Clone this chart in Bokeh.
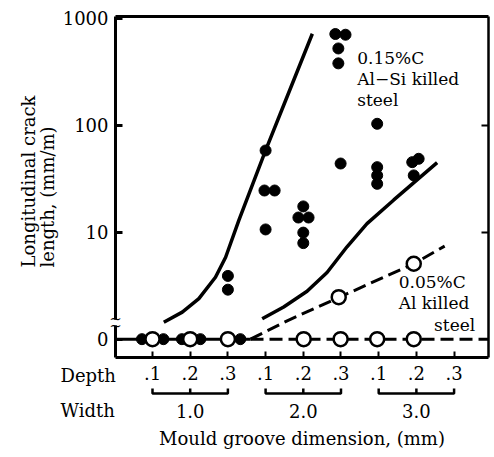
import numpy as np
from bokeh.plotting import figure
from bokeh.models import Label, FixedTicker, LinearAxis, Range1d, BoxAnnotation
from bokeh.embed import file_html
from bokeh.resources import INLINE

FONT = "DejaVu Serif"

# ---- categories / ticks ----
positions = [1, 2, 3, 4, 5, 6, 7, 8, 9]
depth_labels = [".1", ".2", ".3", ".1", ".2", ".3", ".1", ".2", ".3"]
width_labels = ["1.0", "2.0", "3.0"]
width_centers = [2, 5, 8]
y_tick_values = [0, 10, 100, 1000]
y_tick_labels = ["0", "10", "100", "1000"]

# ---- 0.15%C Al-Si killed steel (filled circles) ----
alsi_x = [0.72, 1.29, 1.78, 2.27, 3.0, 3.0, 3.33,
          4.0, 3.97, 4.24, 4.0,
          5.0, 4.87, 5.14, 5.0, 5.0,
          5.85, 6.12, 5.93, 5.93, 5.99,
          6.96, 6.96, 6.96, 6.96,
          7.89, 8.06, 7.93]
alsi_len = [0, 0, 0, 0, 3.9, 2.9, 0,
            58, 24.5, 24.5, 10.6,
            17.4, 13.7, 13.7, 9.9, 7.9,
            711, 700, 521, 378, 43.8,
            103, 40.5, 33.9, 28.3,
            45.1, 48.5, 33.9]

# ---- 0.05%C Al killed steel (open circles) ----
al_x = [1.0, 2.0, 3.0, 5.01, 5.99, 6.96, 7.93, 5.94, 7.93]
al_len = [0, 0, 0, 0, 0, 0, 0, 2.47, 5.07]

# ---- trend curves ----
fit_alsi_a_x = [1.30, 1.79, 2.23, 2.67, 2.94, 3.29, 4.0, 4.53, 5.24]
fit_alsi_a_len = [1.44, 1.79, 2.39, 3.79, 5.83, 12.9, 58, 170, 715]
fit_alsi_b_x = [3.91, 4.48, 5.10, 5.63, 6.16, 6.69, 7.40, 8.55]
fit_alsi_b_len = [1.55, 2.0, 2.8, 4.2, 7.3, 12.0, 20.0, 44.7]
fit_al_x = [3.6, 4.6, 5.94, 7.93, 8.75]
fit_al_len = [0, 1.5, 2.45, 5.07, 7.4]

# ---- canvas / data mapping ----
W, H = 494, 457
X_LO, X_HI = -3.032, 10.072
Y_LO, Y_HI = -1.106, 3.165


def PX(px):
    return X_LO + px / W * (X_HI - X_LO)


def PY(py):
    return Y_HI - py / H * (Y_HI - Y_LO)


AX_L, AX_R, AX_T, AX_B = PX(115), PX(488), PY(16), PY(357)


def ypos(v):
    v = np.asarray(v, dtype=float)
    return np.where(v > 0, np.log10(np.where(v > 0, v, 1.0)), 0.0)


p = figure(width=W, height=H, output_backend="svg", toolbar_location=None,
           x_range=Range1d(X_LO, X_HI), y_range=Range1d(Y_LO, Y_HI),
           min_border=0, x_axis_type=None, y_axis_type=None)
p.grid.visible = False
p.outline_line_color = None
p.background_fill_color = "white"
p.border_fill_color = "white"

# left axis
yax = LinearAxis(ticker=FixedTicker(ticks=list(ypos(y_tick_values))),
                 fixed_location=AX_L, bounds=(AX_B, AX_T))
yax.major_label_overrides = {float(t): l for t, l in zip(ypos(y_tick_values), y_tick_labels)}
yax.major_tick_in = 7
yax.major_tick_out = 0
yax.minor_tick_line_color = None
yax.axis_line_width = 3
yax.major_tick_line_width = 3
yax.major_label_standoff = 7
yax.major_label_text_font = FONT
yax.major_label_text_font_size = "18px"
yax.major_label_text_color = "black"
p.add_layout(yax, "left")

# right axis (ticks only)
rax = LinearAxis(ticker=FixedTicker(ticks=list(ypos([10, 100]))),
                 fixed_location=AX_R, bounds=(AX_B, AX_T))
rax.major_label_text_color = None
rax.major_tick_in = 7
rax.major_tick_out = 0
rax.minor_tick_line_color = None
rax.axis_line_width = 2.5
rax.major_tick_line_width = 2
p.add_layout(rax, "right")

# top frame line
tax = LinearAxis(ticker=FixedTicker(ticks=[]), fixed_location=AX_T, bounds=(AX_L, AX_R))
tax.major_label_text_color = None
tax.major_tick_line_color = None
tax.minor_tick_line_color = None
tax.axis_line_width = 3
p.add_layout(tax, "above")

# bottom axis
xax = LinearAxis(ticker=FixedTicker(ticks=positions), fixed_location=AX_B, bounds=(AX_L, AX_R))
xax.major_label_overrides = {pos: l for pos, l in zip(positions, depth_labels)}
xax.major_tick_in = 6
xax.major_tick_out = 0
xax.minor_tick_line_color = None
xax.axis_line_width = 3
xax.major_tick_line_width = 2
xax.major_label_standoff = 8
xax.major_label_text_font = FONT
xax.major_label_text_font_size = "18px"
xax.major_label_text_color = "black"
p.add_layout(xax, "below")

# lines
p.line([AX_L, fit_al_x[0]], [0, 0], line_color="black", line_width=3)
p.line([fit_al_x[0], AX_R], [0, 0], line_color="black", line_width=3, line_dash="13 6")
p.line(fit_al_x, ypos(fit_al_len), line_color="black", line_width=3, line_dash="13 6")
p.line(fit_alsi_a_x, ypos(fit_alsi_a_len), line_color="black", line_width=3.5)
p.line(fit_alsi_b_x, ypos(fit_alsi_b_len), line_color="black", line_width=3.5)

# points
p.scatter(alsi_x, ypos(alsi_len), size=11, fill_color="black", line_color="black", line_width=1)
p.scatter(al_x, ypos(al_len), size=14, fill_color="white", line_color="black", line_width=2.5)


def lab(x, y, t, size="17px", align="left", angle=0.0):
    p.add_layout(Label(x=x, y=y, text=t, text_font=FONT, text_font_size=size,
                       text_align=align, text_baseline="middle", angle=angle,
                       text_color="black"))


lab(6.43, 2.623, "0.15%C")
lab(6.43, 2.436, "Al\u2212Si killed")
lab(6.43, 2.231, "steel")
lab(7.53, 0.533, "0.05%C")
lab(7.53, 0.334, "Al  killed")
lab(9.56, 0.128, "steel", align="right")

# axis break
p.add_layout(BoxAnnotation(left=PX(111), right=PX(119), bottom=PY(325), top=PY(319),
                           fill_color="white", fill_alpha=1, line_color=None))
lab(AX_L, PY(318), "~", size="15px", align="center")
lab(AX_L, PY(325), "~", size="15px", align="center")

# y-axis title (two lines, bottom-aligned)
lab(PX(28), PY(267), "Longitudinal crack", size="18px", angle=np.pi / 2)
lab(PX(47), PY(267), "length, (mm/m)", size="18px", angle=np.pi / 2)

# bottom rows
lab(PX(60), PY(375), "Depth", size="18px")
lab(PX(60), PY(410), "Width", size="18px")
for c, w in zip(width_centers, width_labels):
    lab(c, PY(410), w, size="18px", align="center")
lab((AX_L + AX_R) / 2, PY(438), "Mould groove dimension, (mm)", size="18px", align="center")

# brackets under each width group
yb, yt = PY(393), PY(388)
bx, by = [], []
for c in width_centers:
    bx.append([c - 1, c - 1, c + 1, c + 1])
    by.append([yt, yb, yb, yt])
    bx.append([c, c])
    by.append([yb, yt])
p.multi_line(bx, by, line_color="black", line_width=2.5)

open("out.html", "w").write(file_html(p, INLINE))
